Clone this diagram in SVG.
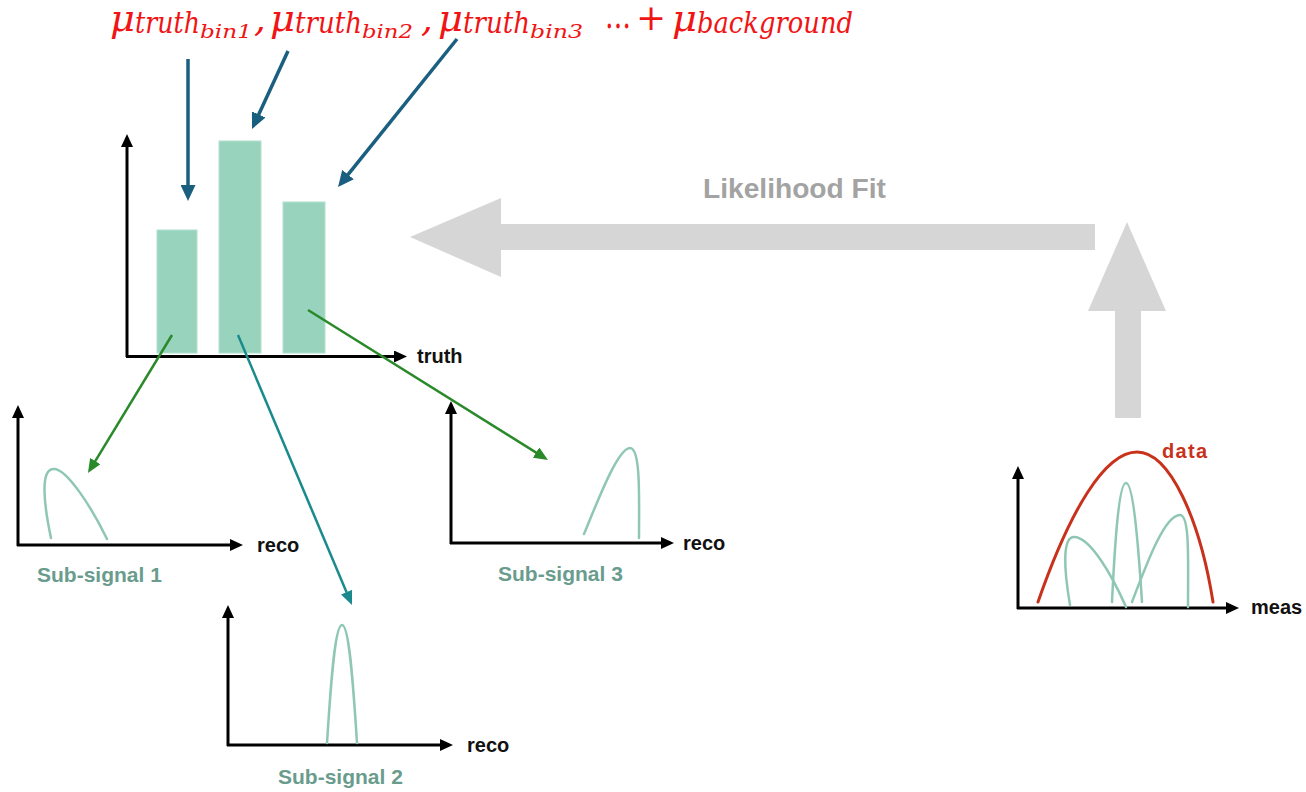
<svg xmlns="http://www.w3.org/2000/svg" width="1306" height="792" viewBox="0 0 1306 792">
<defs>
<style>
.ttl{fill:#f01414;font-family:"DejaVu Serif","Liberation Serif",serif;font-style:italic}
.mu{font-size:37px}
.sub{font-size:29px}
.ssub{font-size:19px}
.ax{stroke:#000;stroke-width:3;fill:none}
.lbl{font-family:"Liberation Sans",Arial,sans-serif;font-weight:bold;font-size:20px;fill:#111}
.sig{font-family:"Liberation Sans",Arial,sans-serif;font-weight:bold;font-size:21px;fill:#6a9c8e}
.crv{stroke:#8fc7b4;stroke-width:2.5;fill:none;stroke-linecap:round}
.bar{fill:#98d4bd;stroke:#b2e0cf;stroke-width:1}
.big{fill:#d6d6d6}
</style>
<marker id="ak" markerUnits="userSpaceOnUse" markerWidth="13" markerHeight="12" refX="2" refY="6" orient="auto"><path d="M0,0 L13,6 L0,12 z" fill="#000"/></marker>
<marker id="ab" markerUnits="userSpaceOnUse" markerWidth="16" markerHeight="15" refX="2" refY="7.5" orient="auto"><path d="M0,0 L16,7.5 L0,15 z" fill="#1b5f80"/></marker>
<marker id="ag" markerUnits="userSpaceOnUse" markerWidth="14" markerHeight="12" refX="2" refY="6" orient="auto"><path d="M0,0 L14,6 L0,12 z" fill="#2a8a2a"/></marker>
<marker id="at" markerUnits="userSpaceOnUse" markerWidth="14" markerHeight="12" refX="2" refY="6" orient="auto"><path d="M0,0 L14,6 L0,12 z" fill="#1a8a8c"/></marker>
</defs>
<rect width="1306" height="792" fill="#fff"/>

<g id="title">
<text class="ttl"><tspan class="mu" x="110" y="31" textLength="25" lengthAdjust="spacingAndGlyphs">μ</tspan><tspan class="sub" x="135" y="33" textLength="65" lengthAdjust="spacingAndGlyphs">truth</tspan><tspan class="ssub" x="200" y="38" textLength="52" lengthAdjust="spacingAndGlyphs">bin1</tspan><tspan class="mu" x="254" y="31">,</tspan><tspan class="mu" x="270" y="31" textLength="25" lengthAdjust="spacingAndGlyphs">μ</tspan><tspan class="sub" x="295" y="33" textLength="67" lengthAdjust="spacingAndGlyphs">truth</tspan><tspan class="ssub" x="362" y="38" textLength="51" lengthAdjust="spacingAndGlyphs">bin2</tspan><tspan class="mu" x="421" y="31">,</tspan><tspan class="mu" x="438" y="31" textLength="25" lengthAdjust="spacingAndGlyphs">μ</tspan><tspan class="sub" x="463" y="33" textLength="67" lengthAdjust="spacingAndGlyphs">truth</tspan><tspan class="ssub" x="530" y="38" textLength="53" lengthAdjust="spacingAndGlyphs">bin3</tspan><tspan class="mu" x="605" y="28" textLength="26" lengthAdjust="spacingAndGlyphs" style="font-style:normal">…</tspan><tspan x="636" y="30" style="font-style:normal;font-size:36px">+</tspan><tspan class="mu" x="672" y="31" textLength="25" lengthAdjust="spacingAndGlyphs">μ</tspan><tspan class="sub" x="697" y="33" textLength="156" lengthAdjust="spacingAndGlyphs">background</tspan></text>
</g>

<g id="histogram">
<rect class="bar" x="157" y="230" width="40" height="123"/>
<rect class="bar" x="219" y="141" width="42" height="212"/>
<rect class="bar" x="283" y="202" width="42" height="151"/>
<line class="ax" x1="127" y1="357" x2="127" y2="145" marker-end="url(#ak)"/>
<line class="ax" x1="126" y1="356.5" x2="396" y2="356.5" marker-end="url(#ak)"/>
<text class="lbl" x="417" y="363">truth</text>
</g>

<g id="sub-signal-1">
<line class="ax" x1="18" y1="546" x2="18" y2="416" marker-end="url(#ak)"/>
<line class="ax" x1="17" y1="545" x2="232" y2="545" marker-end="url(#ak)"/>
<path class="crv" d="M51,538 C44,505 40,470 53,469 C66,467 92,508 107,539"/>
<text class="lbl" x="257" y="552">reco</text>
<text class="sig" x="37" y="582">Sub-signal 1</text>
</g>

<g id="sub-signal-2">
<line class="ax" x1="228" y1="746" x2="228" y2="616" marker-end="url(#ak)"/>
<line class="ax" x1="227" y1="745" x2="442" y2="745" marker-end="url(#ak)"/>
<path class="crv" d="M327,743 C331,680 335,625 342,625 C349,625 353,680 357,743"/>
<text class="lbl" x="467" y="752">reco</text>
<text class="sig" x="278" y="784">Sub-signal 2</text>
</g>

<g id="sub-signal-3">
<line class="ax" x1="451" y1="544" x2="451" y2="412" marker-end="url(#ak)"/>
<line class="ax" x1="450" y1="543" x2="663" y2="543" marker-end="url(#ak)"/>
<path class="crv" d="M584,534 C598,500 618,448 630,448 C641,448 639,500 639,538"/>
<text class="lbl" x="683" y="550">reco</text>
<text class="sig" x="498" y="581">Sub-signal 3</text>
</g>

<g id="data-plot">
<line class="ax" x1="1018" y1="609" x2="1018" y2="477" marker-end="url(#ak)"/>
<line class="ax" x1="1017" y1="608" x2="1228" y2="608" marker-end="url(#ak)"/>
<path class="crv" d="M1070,605 C1064,570 1062,537 1074,537 C1090,537 1112,575 1126,607"/>
<path class="crv" d="M1112,602 C1115,540 1119,483 1126,483 C1133,483 1138,540 1142,602"/>
<path class="crv" d="M1132,602 C1148,560 1165,515 1180,515 C1190,515 1188,560 1188,607"/>
<path d="M1038,602 C1070,510 1105,452 1137,452 C1170,452 1200,520 1213,602" fill="none" stroke="#c8321c" stroke-width="3" stroke-linecap="round"/>
<text class="lbl" x="1162" y="458" style="fill:#c8321c" textLength="45">data</text>
<text class="lbl" x="1251" y="614">meas</text>
</g>

<g id="likelihood-fit">
<polygon class="big" points="410,237 501,198 501,224 1095,224 1095,250 501,250 501,277"/>
<polygon class="big" points="1127,222 1166,311 1141,311 1141,418 1115,418 1115,311 1088,311"/>
<text x="703" y="198" textLength="183" lengthAdjust="spacingAndGlyphs" style="font-family:'Liberation Sans',Arial,sans-serif;font-weight:bold;font-size:27px;fill:#a3a3a3">Likelihood Fit</text>
</g>

<g id="connectors" fill="none">
<line x1="188" y1="59" x2="188" y2="187" stroke="#1b5f80" stroke-width="3.5" marker-end="url(#ab)"/>
<line x1="288" y1="51" x2="257.9" y2="116.3" stroke="#1b5f80" stroke-width="3.5" marker-end="url(#ab)"/>
<line x1="457" y1="39" x2="346.8" y2="176.1" stroke="#1b5f80" stroke-width="3.5" marker-end="url(#ab)"/>
<line x1="172" y1="335" x2="94.2" y2="462.8" stroke="#2a8a2a" stroke-width="2.5" marker-end="url(#ag)"/>
<line x1="238" y1="335" x2="347.3" y2="594" stroke="#1a8a8c" stroke-width="2.5" marker-end="url(#at)"/>
<line x1="308" y1="310" x2="537.8" y2="453.6" stroke="#2a8a2a" stroke-width="2.5" marker-end="url(#ag)"/>
</g>
</svg>
